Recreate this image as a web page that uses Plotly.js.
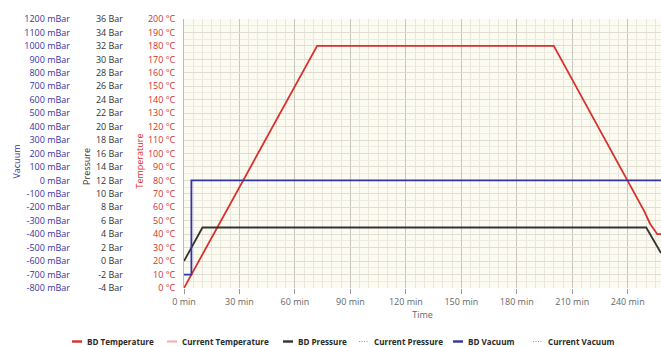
<!DOCTYPE html>
<html>
<head>
<meta charset="utf-8">
<script src="https://cdn.plot.ly/plotly-3.0.1.min.js"></script>
<style>html,body{margin:0;padding:0;background:#fff;}#chart{width:661px;height:347px;}</style>
</head>
<body>
<div id="chart"></div>
<script>
// ---- data ----
const tempTime = [0, 72, 200, 249, 252, 256, 258];
const tempValues = [0, 180, 180, 57, 48, 40, 40];

const pressureTime = [0, 10, 250, 258];
const pressureValues = [0, 5, 5, 1.2];

const vacuumTime = [0, 4, 4, 258];
const vacuumValues = [-700, -700, 0, 0];

const timeTicks = [0, 30, 60, 90, 120, 150, 180, 210, 240];
const timeLabels = ["0 min", "30 min", "60 min", "90 min", "120 min", "150 min", "180 min", "210 min", "240 min"];

const tempTicks = [0,10,20,30,40,50,60,70,80,90,100,110,120,130,140,150,160,170,180,190,200];
const tempLabels = tempTicks.map(v => v + " °C");

const pressureTicks = [-4,-2,0,2,4,6,8,10,12,14,16,18,20,22,24,26,28,30,32,34,36];
const pressureLabels = pressureTicks.map(v => (v < 0 ? "-" + Math.abs(v) : v) + " Bar");

const vacuumTicks = [-800,-700,-600,-500,-400,-300,-200,-100,0,100,200,300,400,500,600,700,800,900,1000,1100,1200];
const vacuumLabels = vacuumTicks.map(v => (v < 0 ? "-" + Math.abs(v) : v) + " mBar");

const seriesNames = ["BD Temperature", "Current Temperature", "BD Pressure", "Current Pressure", "BD Vacuum", "Current Vacuum"];

const W = 661, H = 347;
const plotLeft = 184, plotTop = 19, plotBottom = 288;
const plotH = plotBottom - plotTop;
const FONT = "Open Sans, DejaVu Sans, sans-serif";
const red = "#d9302c", black = "#333333", blue = "#3434a4";

const styles = [
  {color: red, width: 1.8, dash: "solid"},
  {color: "#f2b0b0", width: 1.5, dash: "solid"},
  {color: black, width: 1.8, dash: "solid"},
  {color: "#9a9a9a", width: 1.2, dash: "dot"},
  {color: blue, width: 1.8, dash: "solid"},
  {color: "#9a9a9a", width: 1.2, dash: "dot"}
];

const traces = [
  {name: seriesNames[0], x: tempTime, y: tempValues, yaxis: "y", mode: "lines", line: styles[0]},
  {name: seriesNames[1], x: [null], y: [null], yaxis: "y", mode: "lines", line: styles[1]},
  {name: seriesNames[2], x: pressureTime, y: pressureValues, yaxis: "y2", mode: "lines", line: styles[2]},
  {name: seriesNames[3], x: [null], y: [null], yaxis: "y2", mode: "lines", line: styles[3]},
  {name: seriesNames[4], x: vacuumTime, y: vacuumValues, yaxis: "y3", mode: "lines", line: styles[4]},
  {name: seriesNames[5], x: [null], y: [null], yaxis: "y3", mode: "lines", line: styles[5]}
];

// legend row drawn below the plot (key lines + labels)
const legendTextX = [86, 181, 297, 373, 467, 547];
const legendY = (plotBottom - 341.5) / plotH;
const shapes = [];
const annotations = [];
seriesNames.forEach((name, i) => {
  const dotted = styles[i].dash === "dot";
  shapes.push({type: "line", xref: "paper", yref: "paper",
    x0: (legendTextX[i] - 14) / W, x1: (legendTextX[i] - 4) / W, y0: legendY, y1: legendY,
    line: {color: styles[i].color, width: dotted ? 1 : styles[i].width + 0.6, dash: dotted ? "1px,1.5px" : "solid"}});
  annotations.push({text: name, xref: "paper", yref: "paper", x: legendTextX[i] / W, y: legendY,
    xanchor: "left", yanchor: "middle", showarrow: false, borderpad: 0,
    font: {family: FONT, size: 8.1, color: "#2a2a2a", weight: "bold"}});
});

annotations.push(
  {text: "Vacuum", xref: "paper", yref: "paper", x: 17 / W, y: 0.47, textangle: -90,
   showarrow: false, font: {family: FONT, size: 9, color: blue}, xanchor: "center", yanchor: "middle"},
  {text: "Pressure", xref: "paper", yref: "paper", x: 87 / W, y: 0.45, textangle: -90,
   showarrow: false, font: {family: FONT, size: 9, color: "#333"}, xanchor: "center", yanchor: "middle"},
  {text: "Temperature", xref: "paper", yref: "paper", x: 140 / W, y: 0.47, textangle: -90,
   showarrow: false, font: {family: FONT, size: 9, color: red}, xanchor: "center", yanchor: "middle"}
);

const layout = {
  width: W, height: H,
  margin: {l: 0, r: 0, t: plotTop, b: H - plotBottom, pad: 0, autoexpand: false},
  paper_bgcolor: "#ffffff",
  plot_bgcolor: "#fbfbf2",
  showlegend: false,
  xaxis: {
    domain: [plotLeft / W, 1], range: [0, 258],
    tickmode: "array", tickvals: timeTicks, ticktext: timeLabels,
    tickfont: {family: FONT, size: 9, color: "#666"},
    ticks: "outside", ticklen: 5, tickcolor: "#999", tickwidth: 1,
    showgrid: true, gridcolor: "#c9c7bd", gridwidth: 1,
    minor: {tickmode: "linear", tick0: 0, dtick: 5, showgrid: true, gridcolor: "#e9e6d9", gridwidth: 1, ticks: ""},
    zeroline: false, showline: false,
    title: {text: "Time", font: {family: FONT, size: 9, color: "#666"}, standoff: 4}
  },
  yaxis: {
    range: [0, 200], side: "left",
    tickmode: "array", tickvals: tempTicks, ticktext: tempLabels,
    tickfont: {family: FONT, size: 9, color: red},
    ticks: "", ticklabelstandoff: 6,
    showgrid: true, gridcolor: "#e0ddd0", gridwidth: 1,
    minor: {tickmode: "linear", tick0: 0, dtick: 5, showgrid: true, gridcolor: "#eeebe1", gridwidth: 1},
    zeroline: false, showline: true, linecolor: "#bdbbb2", linewidth: 1
  },
  yaxis2: {
    range: [-4, 36], overlaying: "y", side: "left", anchor: "free", position: 123 / W,
    tickmode: "array", tickvals: pressureTicks, ticktext: pressureLabels,
    tickfont: {family: FONT, size: 9, color: "#333"},
    ticks: "", showgrid: false, zeroline: false, showline: false
  },
  yaxis3: {
    range: [-800, 1200], overlaying: "y", side: "left", anchor: "free", position: 70 / W,
    tickmode: "array", tickvals: vacuumTicks, ticktext: vacuumLabels,
    tickfont: {family: FONT, size: 9, color: blue},
    ticks: "", showgrid: false, zeroline: false, showline: false
  },
  shapes: shapes,
  annotations: annotations
};

Plotly.newPlot("chart", traces, layout, {displayModeBar: false, staticPlot: true});
</script>
</body>
</html>
